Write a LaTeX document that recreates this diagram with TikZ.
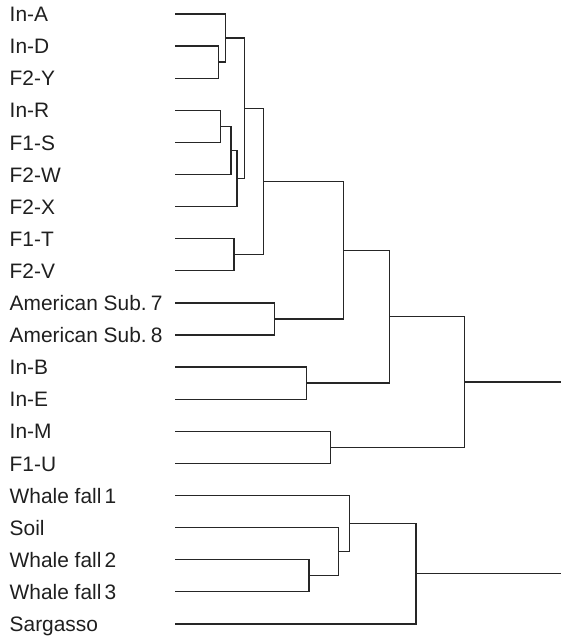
\documentclass[tikz,border=0pt]{standalone}
\usepackage{fontspec}
\setmainfont{Liberation Sans}
\begin{document}
\begin{tikzpicture}[x=1pt,y=-1pt,
  br/.style={draw=black!85, line width=1.35pt, line join=miter},
  lab/.style={anchor=base west, inner sep=0pt, font=\fontsize{20.9}{24}\selectfont, text=black!88}]
\useasboundingbox (0,0) rectangle (561,638);
% leaves and labels
\foreach \i/\t in {0/In-A,1/In-D,2/F2-Y,3/In-R,4/F1-S,5/F2-W,6/F2-X,7/F1-T,8/F2-V,
  9/{American Sub.\kern0.2em 7},10/{American Sub.\kern0.2em 8},11/In-B,12/In-E,13/In-M,14/F1-U,
  15/{Whale fall\kern0.15em 1},16/Soil,17/{Whale fall\kern0.15em 2},18/{Whale fall\kern0.15em 3},19/Sargasso}{
  \coordinate (l\i) at (175,14+32.1*\i);
  \node[lab] (t\i) at (9.5,21.6+32.1*\i) {\t};
}
% internal nodes
\coordinate (nDY)   at (218.3,62.15);
\coordinate (nADY)  at (225.7,38.1);
\coordinate (nRS)   at (220.7,126.35);
\coordinate (nRSW)  at (231,150.4);
\coordinate (nRSWX) at (237,178.5);
\coordinate (nTop)  at (244.7,108.3);
\coordinate (nTV)   at (234,254.75);
\coordinate (nN)    at (263.3,181.5);
\coordinate (nAm)   at (274.3,318.95);
\coordinate (nT)    at (343.3,250.2);
\coordinate (nBE)   at (306.3,383.15);
\coordinate (nE)    at (389.3,316.7);
\coordinate (nMU)   at (330.3,447.35);
\coordinate (nTw)   at (464.3,382);
\coordinate (r1)    at (561,382);
\coordinate (nW23)  at (309,575.75);
\coordinate (nSW)   at (338.3,551.7);
\coordinate (nW1)   at (349.3,523.6);
\coordinate (nSg)   at (416,573.75);
\coordinate (r2)    at (561,573.75);
% branches
\draw[br] (l1) -| (nDY) |- (l2);
\draw[br] (l0) -| (nADY) |- (nDY);
\draw[br] (l3) -| (nRS) |- (l4);
\draw[br] (nRS) -| (nRSW) |- (l5);
\draw[br] (nRSW) -| (nRSWX) |- (l6);
\draw[br] (nADY) -| (nTop) |- (nRSWX);
\draw[br] (l7) -| (nTV) |- (l8);
\draw[br] (nTop) -| (nN) |- (nTV);
\draw[br] (l9) -| (nAm) |- (l10);
\draw[br] (nN) -| (nT) |- (nAm);
\draw[br] (l11) -| (nBE) |- (l12);
\draw[br] (nT) -| (nE) |- (nBE);
\draw[br] (l13) -| (nMU) |- (l14);
\draw[br] (nE) -| (nTw) |- (nMU);
\draw[br] (nTw) -- (r1);
\draw[br] (l17) -| (nW23) |- (l18);
\draw[br] (l16) -| (nSW) |- (nW23);
\draw[br] (l15) -| (nW1) |- (nSW);
\draw[br] (nW1) -| (nSg) |- (l19);
\draw[br] (nSg) -- (r2);
\end{tikzpicture}
\end{document}
